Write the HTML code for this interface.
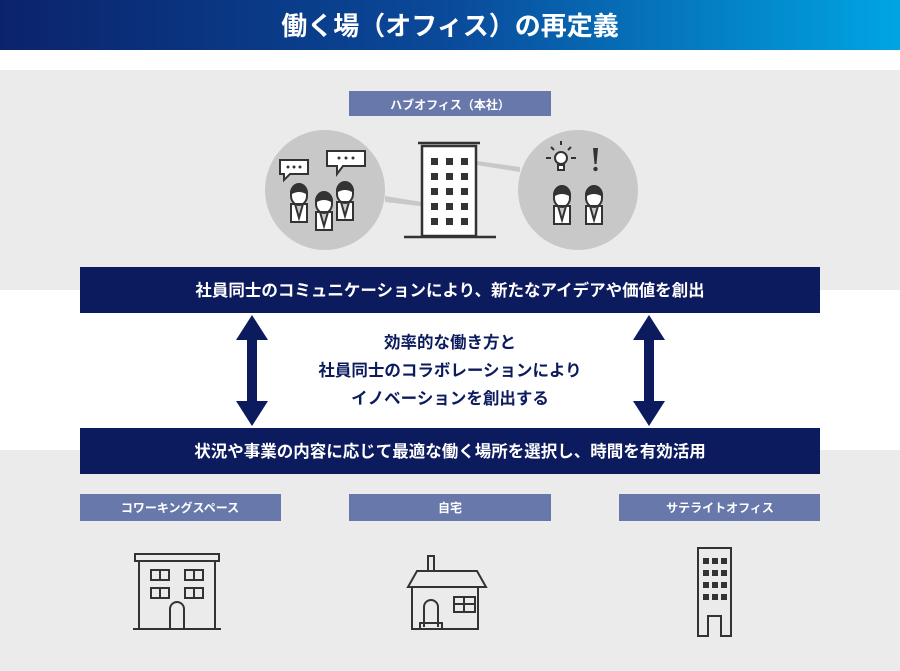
<!DOCTYPE html>
<html><head><meta charset="utf-8"><style>
body{margin:0;width:900px;height:671px;overflow:hidden;background:#fff;font-family:"Liberation Sans","Noto Sans CJK JP",sans-serif;}
svg{display:block}
text{font-family:"Liberation Sans","Noto Sans CJK JP",sans-serif;font-weight:bold}
</style></head><body>
<svg width="900" height="671" viewBox="0 0 900 671">
<defs><linearGradient id="g" x1="0" x2="1"><stop offset="0" stop-color="#0b236b"/><stop offset="0.5" stop-color="#0a4a9a"/><stop offset="1" stop-color="#00a5e3"/></linearGradient>
<g id="man"><path d="M-8 2a8 9 0 0 1 16 0v3a8 9 0 0 1 -16 0z" fill="#fff" stroke="#333" stroke-width="2"/><path d="M-9 2a9 9 0 0 1 18 0l-2 1q-7 -4 -14 0z" fill="#333"/><path d="M-8 13h16v18h-16z M-4 13l4 14 4-14" fill="#fff" stroke="#333" stroke-width="2"/></g>
</defs>
<rect width="900" height="50" fill="url(#g)"/>
<text x="450" y="35" fill="#fff" font-size="26" text-anchor="middle">働く場（オフィス）の再定義</text>
<rect y="70" width="900" height="220" fill="#ebebeb"/>
<rect y="450" width="900" height="221" fill="#ebebeb"/>
<rect x="349" y="91" width="202" height="25" fill="#6878aa"/>
<text x="450" y="109" fill="#fff" font-size="12" text-anchor="middle">ハブオフィス（本社）</text>
<polygon points="385,196 428,203 428,207 385,202" fill="#c8c8c8"/>
<polygon points="470,160 520,167 520,172 470,164" fill="#c8c8c8"/>
<circle cx="325" cy="190" r="60" fill="#c8c8c8"/>
<circle cx="578" cy="190" r="60" fill="#c8c8c8"/>
<g stroke="#333" stroke-width="2.5" fill="none">
<rect x="422" y="146" width="54" height="90" fill="#fff"/>
<line x1="418" y1="143" x2="480" y2="143"/>
<line x1="404" y1="237" x2="496" y2="237"/>
</g>
<g fill="#333">
<rect x="431" y="158" width="7" height="7"/><rect x="446" y="158" width="7" height="7"/><rect x="461" y="158" width="7" height="7"/>
<rect x="431" y="173" width="7" height="7"/><rect x="446" y="173" width="7" height="7"/><rect x="461" y="173" width="7" height="7"/>
<rect x="431" y="188" width="7" height="7"/><rect x="446" y="188" width="7" height="7"/><rect x="461" y="188" width="7" height="7"/>
<rect x="431" y="203" width="7" height="7"/><rect x="446" y="203" width="7" height="7"/><rect x="461" y="203" width="7" height="7"/>
<rect x="431" y="218" width="7" height="7"/><rect x="446" y="218" width="7" height="7"/><rect x="461" y="218" width="7" height="7"/>
</g>
<g stroke="#333" stroke-width="2" fill="#fff">
<path d="M280 160h28v14h-18l-6 6v-6h-4z"/>
<path d="M327 151h38v15h-22l-6 8v-8h-10z"/>
</g>
<g fill="#333"><circle cx="288" cy="167" r="1.5"/><circle cx="294" cy="167" r="1.5"/><circle cx="300" cy="167" r="1.5"/>
<circle cx="339" cy="158" r="1.5"/><circle cx="346" cy="158" r="1.5"/><circle cx="353" cy="158" r="1.5"/>
<path d="M593 148h5l-1.5 16h-2z"/><circle cx="595.5" cy="169" r="2.2"/></g>
<use href="#man" x="299" y="191"/>
<use href="#man" x="345" y="189"/>
<use href="#man" x="324" y="199"/>
<use href="#man" x="562" y="193"/>
<use href="#man" x="594" y="193"/>
<g stroke="#333" stroke-width="2" fill="#fff">
<circle cx="561" cy="158" r="6"/><rect x="558" y="165" width="6" height="5"/>
<path d="M546 158h5M571 158h5M551 147l3 3M571 147l-3 3M561 141v4" fill="none"/>
</g>
<rect x="80" y="267" width="740" height="46" fill="#0c1a5e"/>
<text x="450" y="296" fill="#fff" font-size="16.5" text-anchor="middle">社員同士のコミュニケーションにより、新たなアイデアや価値を創出</text>
<rect x="80" y="428" width="740" height="46" fill="#0c1a5e"/>
<text x="450" y="457" fill="#fff" font-size="16.5" text-anchor="middle">状況や事業の内容に応じて最適な働く場所を選択し、時間を有効活用</text>
<g fill="#0c1a5e">
<polygon points="252,315 268,340 257,340 257,401 268,401 252,426 236,401 247,401 247,340 236,340"/>
<polygon points="649,315 665,340 654,340 654,401 665,401 649,426 633,401 644,401 644,340 633,340"/>
</g>
<g fill="#0c1a5e" font-size="16.5" text-anchor="middle">
<text x="450" y="348">効率的な働き方と</text>
<text x="450" y="376">社員同士のコラボレーションにより</text>
<text x="450" y="404">イノベーションを創出する</text>
</g>
<g fill="#6878aa"><rect x="80" y="494" width="201" height="27"/><rect x="349" y="494" width="202" height="27"/><rect x="619" y="494" width="201" height="27"/></g>
<g fill="#fff" font-size="12" text-anchor="middle">
<text x="180" y="512">コワーキングスペース</text><text x="450" y="512">自宅</text><text x="720" y="512">サテライトオフィス</text>
</g>
<g stroke="#333" stroke-width="2" fill="none">
<rect x="135" y="554" width="84" height="7"/>
<path d="M139 561v68M215 561v68M133 629h88"/>
<rect x="151" y="570" width="18" height="10"/><line x1="160" y1="570" x2="160" y2="580"/>
<rect x="185" y="570" width="18" height="10"/><line x1="194" y1="570" x2="194" y2="580"/>
<rect x="151" y="588" width="18" height="10"/><line x1="160" y1="588" x2="160" y2="598"/>
<rect x="185" y="588" width="18" height="10"/><line x1="194" y1="588" x2="194" y2="598"/>
<path d="M170 629v-20a7 7 0 0 1 14 0v20"/>
<path d="M428 571v-15h6v15"/>
<path d="M417 571h60l9 16h-78z"/>
<path d="M412 587v42h66v-42"/>
<path d="M424 627v-20a7 7 0 0 1 14 0v20M420 629v-6h22v6"/>
<rect x="454" y="597" width="21" height="15"/><path d="M464 597v15M454 604h21"/>
<path d="M698 548h33v88h-10v-20h-13v20h-10z"/>
</g>
<g fill="#333">
<rect x="703" y="558" width="6" height="6"/><rect x="712" y="558" width="6" height="6"/><rect x="721" y="558" width="6" height="6"/>
<rect x="703" y="570" width="6" height="6"/><rect x="712" y="570" width="6" height="6"/><rect x="721" y="570" width="6" height="6"/>
<rect x="703" y="582" width="6" height="6"/><rect x="712" y="582" width="6" height="6"/><rect x="721" y="582" width="6" height="6"/>
<rect x="703" y="594" width="6" height="6"/><rect x="712" y="594" width="6" height="6"/><rect x="721" y="594" width="6" height="6"/>
</g>
</svg>
</body></html>
